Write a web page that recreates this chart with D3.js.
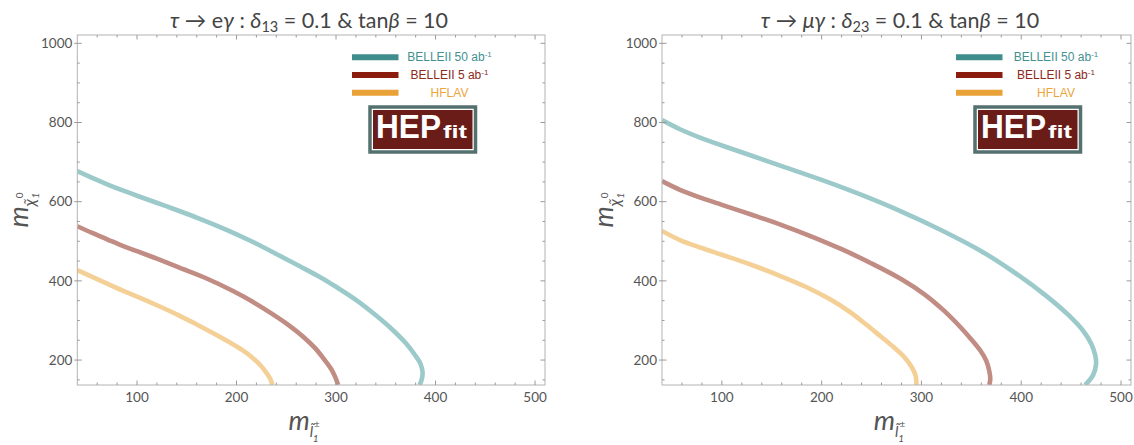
<!DOCTYPE html>
<html><head><meta charset="utf-8">
<script src="https://cdn.jsdelivr.net/npm/d3@7"></script>
<style>body{margin:0;background:#fff} svg{display:block}</style>
</head><body>
<svg id="c" width="1134" height="445"></svg>
<script>
// ---------------- data ----------------
const xTicks = [100, 200, 300, 400, 500];
const yTicks = [200, 400, 600, 800, 1000];
const xMinorStep = 20;
const yMinorStep = 50;
const xDomain = [40, 510];
const yDomain = [137, 1021];

const seriesNames = ["BELLEII 50 ab", "BELLEII 5 ab", "HFLAV"];
const seriesSup = ["-1", "-1", ""];
const curveColors = ["#9cc9ca", "#c18c83", "#f4d097"];
const legendColors = ["#3f8d8c", "#8a1d0e", "#e9a237"];
const legendTextColors = ["#449090", "#8d2a1c", "#eaa53c"];

// left panel: tau -> e gamma
const leftBelle50 = [[40,677],[55,660],[70,644],[85,629],[100,615],[130,588],[160,560],[190,529],[215,500],[240,468],[265,435],[285,408],[300,385],[320,352],[340,313],[357,276],[370,243],[379,214],[385,190],[387,168],[386,150],[384,137]];
const leftBelle5  = [[40,538],[55,521],[70,505],[85,489],[100,475],[120,456],[142,434],[170,406],[196,375],[215,349],[235,318],[252,289],[267,259],[279,230],[288,202],[295,178],[299,158],[301,145],[302,137]];
const leftHFLAV   = [[40,427],[55,410],[70,393],[88,373],[106,354],[124,334],[142,313],[160,290],[178,266],[193,245],[206,225],[216,206],[224,187],[230,168],[234,152],[236,137]];

// right panel: tau -> mu gamma
const rightBelle50 = [[40,806],[58,783],[80,760],[100,742],[130,716],[160,690],[200,655],[240,617],[280,575],[320,528],[360,475],[395,418],[425,362],[448,312],[462,274],[470,242],[474,214],[475,190],[472,162],[464,137]];
const rightBelle5  = [[40,652],[58,630],[80,609],[100,592],[130,567],[160,541],[190,512],[220,480],[250,444],[280,404],[303,366],[322,326],[338,286],[350,252],[359,224],[365,198],[368,172],[369,152],[368,137]];
const rightHFLAV   = [[40,526],[58,503],[80,483],[100,466],[130,440],[160,411],[185,384],[208,354],[228,322],[244,291],[259,260],[272,233],[283,207],[290,183],[294,162],[295,137]];

const panelTitles = [
  {proc: "e", procItalic: false, sub: "13"},
  {proc: "\u03bc", procItalic: true, sub: "23"}
];

// ---------------- layout ----------------
const svg = d3.select("#c");
const plotTop = 35, plotBottom = 385;
const panels = [
  {x0: 77.3, x1: 545, data: [leftBelle50, leftBelle5, leftHFLAV], title: panelTitles[0], titleX: 309, legX: 352, legTextX: 449.5, logoX: 370},
  {x0: 662, x1: 1131, data: [rightBelle50, rightBelle5, rightHFLAV], title: panelTitles[1], titleX: 900, legX: 956, legTextX: 1056, logoX: 975}
];
const font = "Lato, 'Noto Sans', 'DejaVu Sans', sans-serif";

panels.forEach((p, pi) => {
  const x = d3.scaleLinear().domain(xDomain).range([p.x0, p.x1]);
  const y = d3.scaleLinear().domain(yDomain).range([plotBottom, plotTop]);
  const g = svg.append("g");

  const clipId = "clip" + pi;
  svg.append("clipPath").attr("id", clipId).append("rect")
    .attr("x", p.x0).attr("y", plotTop).attr("width", p.x1 - p.x0).attr("height", plotBottom - plotTop);

  // curves
  const line = d3.line().x(d => x(d[0])).y(d => y(d[1])).curve(d3.curveCatmullRom.alpha(0.5));
  const cg = g.append("g").attr("clip-path", `url(#${clipId})`);
  p.data.forEach((s, i) => {
    cg.append("path").attr("d", line(s)).attr("fill", "none")
      .attr("stroke", curveColors[i]).attr("stroke-width", 4.6).attr("stroke-linecap", "butt");
  });

  // frame
  g.append("rect").attr("x", p.x0).attr("y", plotTop).attr("width", p.x1 - p.x0).attr("height", plotBottom - plotTop)
    .attr("fill", "none").attr("stroke", "#b3b3b3").attr("stroke-width", 1);

  // ticks
  const xMinor = d3.range(xDomain[0] + xMinorStep, xDomain[1], xMinorStep).filter(v => !xTicks.includes(v));
  const yMinor = d3.range(150, yDomain[1], yMinorStep).filter(v => !yTicks.includes(v));
  const tk = g.append("g").attr("stroke", "#9a9a9a").attr("stroke-width", 1);
  xTicks.forEach(v => {
    tk.append("line").attr("x1", x(v)).attr("x2", x(v)).attr("y1", plotBottom).attr("y2", plotBottom - 4.5);
    tk.append("line").attr("x1", x(v)).attr("x2", x(v)).attr("y1", plotTop).attr("y2", plotTop + 4.5);
  });
  xMinor.forEach(v => {
    tk.append("line").attr("x1", x(v)).attr("x2", x(v)).attr("y1", plotBottom).attr("y2", plotBottom - 2.5);
    tk.append("line").attr("x1", x(v)).attr("x2", x(v)).attr("y1", plotTop).attr("y2", plotTop + 2.5);
  });
  yTicks.forEach(v => {
    tk.append("line").attr("y1", y(v)).attr("y2", y(v)).attr("x1", p.x0 - 3).attr("x2", p.x0 + 4.5);
    tk.append("line").attr("y1", y(v)).attr("y2", y(v)).attr("x1", p.x1).attr("x2", p.x1 - 4.5);
  });
  yMinor.forEach(v => {
    tk.append("line").attr("y1", y(v)).attr("y2", y(v)).attr("x1", p.x0).attr("x2", p.x0 + 2.5);
    tk.append("line").attr("y1", y(v)).attr("y2", y(v)).attr("x1", p.x1).attr("x2", p.x1 - 2.5);
  });

  // tick labels
  xTicks.forEach(v => {
    g.append("text").attr("x", x(v)).attr("y", plotBottom + 17).attr("text-anchor", "middle")
      .attr("font-family", font).attr("font-size", 13.5).attr("fill", "#555").text(v);
  });
  yTicks.forEach(v => {
    g.append("text").attr("x", p.x0 - 5).attr("y", y(v) + 4.8).attr("text-anchor", "end")
      .attr("font-family", font).attr("font-size", 13.5).attr("fill", "#555").text(v);
  });

  // title
  const t = g.append("text").attr("x", p.titleX).attr("y", 28).attr("text-anchor", "middle")
    .attr("font-family", font).attr("font-size", 21.5).attr("fill", "#444");
  t.append("tspan").attr("font-style", "italic").text("\u03c4");
  t.append("tspan").text(" \u2192 ");
  t.append("tspan").attr("font-style", p.title.procItalic ? "italic" : "normal").text(p.title.proc);
  t.append("tspan").attr("font-style", "italic").text("\u03b3");
  t.append("tspan").text(" : ");
  t.append("tspan").attr("font-style", "italic").text("\u03b4");
  t.append("tspan").attr("font-size", 14.5).attr("dy", 4).text(p.title.sub);
  t.append("tspan").attr("dy", -4).text(" = 0.1 & tan");
  t.append("tspan").attr("font-style", "italic").text("\u03b2");
  t.append("tspan").text(" = 10");

  // x-axis title
  const xc = (p.x0 + p.x1) / 2 - 7;
  const xt = g.append("text").attr("x", xc).attr("y", 430).attr("text-anchor", "middle")
    .attr("font-family", font).attr("fill", "#555").attr("font-style", "italic");
  xt.append("tspan").attr("font-size", 27).text("m");
  xt.append("tspan").attr("font-size", 15).attr("dy", 7).text("l\u0303");
  xt.append("tspan").attr("font-size", 10).attr("dy", -10).attr("dx", 1).attr("font-style", "normal").text("\u00b1");
  xt.append("tspan").attr("font-size", 10).attr("dy", 15).attr("dx", -7).text("1");

  // y-axis title
  const yc = (plotTop + plotBottom) / 2 + 0;
  const ytx = p.x0 - 49;
  const yt = g.append("text").attr("transform", `translate(${ytx},${yc}) rotate(-90)`).attr("text-anchor", "middle")
    .attr("font-family", font).attr("fill", "#555").attr("font-style", "italic");
  yt.append("tspan").attr("font-size", 27).text("m");
  yt.append("tspan").attr("font-size", 16).attr("dy", 7).text("\u03c7\u0303");
  yt.append("tspan").attr("font-size", 10).attr("dy", -12).attr("dx", 1).attr("font-style", "normal").text("0");
  yt.append("tspan").attr("font-size", 10).attr("dy", 16).attr("dx", -6).text("1");

  // legend
  seriesNames.forEach((name, i) => {
    const ly = 57.3 + i * 17.7;
    g.append("line").attr("x1", p.legX).attr("x2", p.legX + 46.5).attr("y1", ly).attr("y2", ly)
      .attr("stroke", legendColors[i]).attr("stroke-width", 6);
    const lt = g.append("text").attr("x", p.legTextX).attr("y", ly + 4).attr("text-anchor", "middle")
      .attr("font-family", "'Liberation Sans', Arial, sans-serif").attr("font-size", 12).attr("fill", legendTextColors[i]);
    lt.append("tspan").text(name);
    if (seriesSup[i]) lt.append("tspan").attr("font-size", 8).attr("dy", -4.5).text(seriesSup[i]);
  });

  // HEPfit logo
  const lx = p.logoX, ly0 = 107, lw = 105.5, lh = 45;
  const lg = g.append("g");
  lg.append("rect").attr("x", lx).attr("y", ly0).attr("width", lw).attr("height", lh)
    .attr("fill", "#ffffff").attr("stroke", "#55716f").attr("stroke-width", 3.5);
  lg.append("rect").attr("x", lx + 3).attr("y", ly0 + 3).attr("width", lw - 6).attr("height", lh - 6)
    .attr("fill", "#6a1c19");
  lg.append("text").attr("x", lx + 6).attr("y", ly0 + 31).attr("font-family", "'Liberation Sans', Arial, sans-serif")
    .attr("font-weight", "bold").attr("font-size", 33).attr("fill", "#fff").attr("textLength", 65).attr("lengthAdjust", "spacingAndGlyphs").text("HEP");
  lg.append("text").attr("x", lx + 73).attr("y", ly0 + 31).attr("font-family", "'Liberation Sans', Arial, sans-serif")
    .attr("font-weight", "bold").attr("font-size", 19).attr("fill", "#fff").attr("textLength", 24).attr("lengthAdjust", "spacingAndGlyphs").text("fit");
});
</script>
</body></html>
